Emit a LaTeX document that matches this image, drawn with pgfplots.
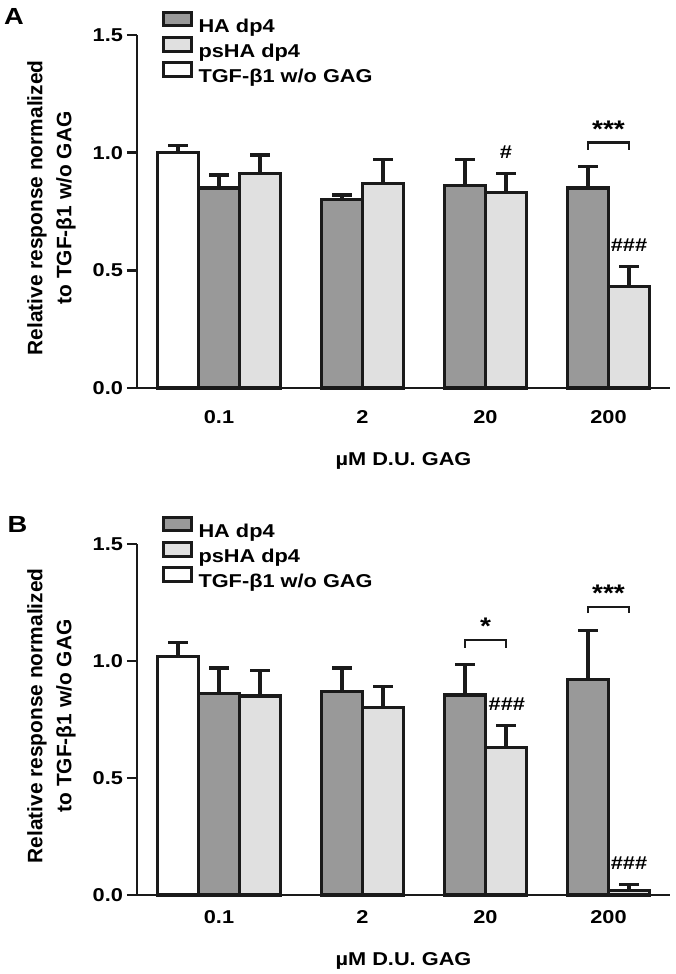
\documentclass[border=0pt]{standalone}
\usepackage{pgfplots}
\pgfplotsset{compat=1.18}
\usepackage{fontspec}
\setmainfont{Liberation Sans}[FakeStretch=1.17]
\newfontfamily\ylabfont{Liberation Sans}
\definecolor{hagray}{HTML}{999999}
\definecolor{psgray}{HTML}{E0E0E0}
\definecolor{edge}{HTML}{1A1A1A}
\newcommand{\tfont}{\fontsize{9.3}{11}\bfseries\selectfont}
\newcommand{\afont}{\fontsize{12}{13}\bfseries\selectfont}
\pgfplotsset{
  panel/.style={
    scale only axis, width=266.5pt, anchor=south west,
    axis lines=left, axis line style={-, line width=1.4pt, draw=edge},
    xmin=0, xmax=13, ymin=0, ymax=1.5,
    xtick={2,5.5,8.5,11.5}, xticklabels={0.1,2,20,200},
    ytick={0,0.5,1,1.5},
    /pgf/number format/assume math mode=true,
    tick label style={font=\tfont},
    yticklabel style={xshift=1.5pt, /pgf/number format/fixed, /pgf/number format/fixed zerofill, /pgf/number format/precision=1},
    xtick style={draw=none},
    ytick style={line width=1.3pt, draw=edge},
    tick align=outside, major tick length=5pt,
    xlabel={µM D.U. GAG},
    ylabel={Relative response normalized\\to TGF-β1 w/o GAG},
    ylabel style={font=\fontsize{10.45}{14.5}\ylabfont\bfseries\selectfont, align=center, at={(axis description cs:-0.1604,0.51)}, anchor=center},
    clip=false,
    legend cell align=left,
    legend style={draw=none, fill=none, inner sep=0pt, outer sep=0pt, font=\tfont, row sep=-0.5pt, column sep=3pt, nodes={inner sep=0pt, text height=8pt, text depth=2.5pt}},
    legend image code/.code={\draw[##1, line width=1.5pt] (0.75pt,0.4pt) rectangle (14.75pt,7.1pt);},
  },
  bars/.style={ybar, bar width=1, bar shift=0pt, draw=edge, line width=1.6pt,
    error bars/y dir=plus, error bars/y explicit,
    error bars/error bar style={line width=1.6pt, draw=edge, solid},
    error bars/error mark options={rotate=90, line width=1.6pt, mark size=4.8pt, draw=edge}},
  bracket/.style={draw=edge, line width=1.4pt, mark=none, forget plot},
}
\begin{document}
\begin{tikzpicture}
\useasboundingbox (0,0) rectangle (337.5pt,487pt);
% Panel A
\begin{axis}[panel, height=176.5pt, at={(68.5pt,293pt)},
  xticklabel style={anchor=center, yshift=-9.5pt},
  xlabel style={font=\tfont, at={(axis description cs:0.5,0)}, anchor=center, yshift=-36.5pt},
  legend style={at={(axis description cs:0.046,1.068)}, anchor=north west}]
\addlegendimage{fill=hagray, draw=edge}
\addlegendentry{HA dp4}
\addlegendimage{fill=psgray, draw=edge}
\addlegendentry{psHA dp4}
\addlegendimage{fill=white, draw=edge}
\addlegendentry{TGF-β1 w/o GAG}
\addplot[bars, fill=white, forget plot] table[x=x, y=y, y error=e] {
x y e
1 1.00 0.03
};
\addplot[bars, fill=hagray, forget plot] table[x=x, y=y, y error=e] {
x y e
2 0.85 0.055
5 0.80 0.02
8 0.86 0.11
11 0.85 0.09
};
\addplot[bars, fill=psgray, forget plot] table[x=x, y=y, y error=e] {
x y e
3 0.91 0.08
6 0.87 0.10
9 0.83 0.08
12 0.43 0.085
};
\addplot[bracket] coordinates {(11,1.013) (11,1.043) (12,1.043) (12,1.013)};
\node[font=\tfont] at (axis cs:9,1.0) {\#};
\node[font=\tfont] at (axis cs:12,0.609) {\#\#\#};
\node[font=\afont] at (axis cs:11.5,1.10) {***};
\end{axis}
% Panel B
\begin{axis}[panel, height=175.5pt, at={(68.5pt,39.5pt)},
  xticklabel style={anchor=center, yshift=-6pt},
  xlabel style={font=\tfont, at={(axis description cs:0.5,0)}, anchor=center, yshift=-33pt},
  legend style={at={(axis description cs:0.046,1.080)}, anchor=north west}]
\addlegendimage{fill=hagray, draw=edge}
\addlegendentry{HA dp4}
\addlegendimage{fill=psgray, draw=edge}
\addlegendentry{psHA dp4}
\addlegendimage{fill=white, draw=edge}
\addlegendentry{TGF-β1 w/o GAG}
\addplot[bars, fill=white, forget plot] table[x=x, y=y, y error=e] {
x y e
1 1.02 0.06
};
\addplot[bars, fill=hagray, forget plot] table[x=x, y=y, y error=e] {
x y e
2 0.86 0.11
5 0.87 0.10
8 0.855 0.13
11 0.92 0.21
};
\addplot[bars, fill=psgray, forget plot] table[x=x, y=y, y error=e] {
x y e
3 0.85 0.11
6 0.80 0.09
9 0.63 0.095
12 0.02 0.025
};
\addplot[bracket] coordinates {(8,1.056) (8,1.09) (9,1.09) (9,1.056)};
\addplot[bracket] coordinates {(11,1.205) (11,1.231) (12,1.231) (12,1.205)};
\node[font=\afont] at (axis cs:8.5,1.148) {*};
\node[font=\tfont] at (axis cs:9.02,0.816) {\#\#\#};
\node[font=\afont] at (axis cs:11.5,1.289) {***};
\node[font=\tfont] at (axis cs:12,0.137) {\#\#\#};
\end{axis}
\node[font=\fontsize{11.65}{13}\bfseries\selectfont] at (7pt,478.75pt) {A};
\node[font=\fontsize{11.65}{13}\bfseries\selectfont] at (8.75pt,225pt) {B};
\end{tikzpicture}
\end{document}
